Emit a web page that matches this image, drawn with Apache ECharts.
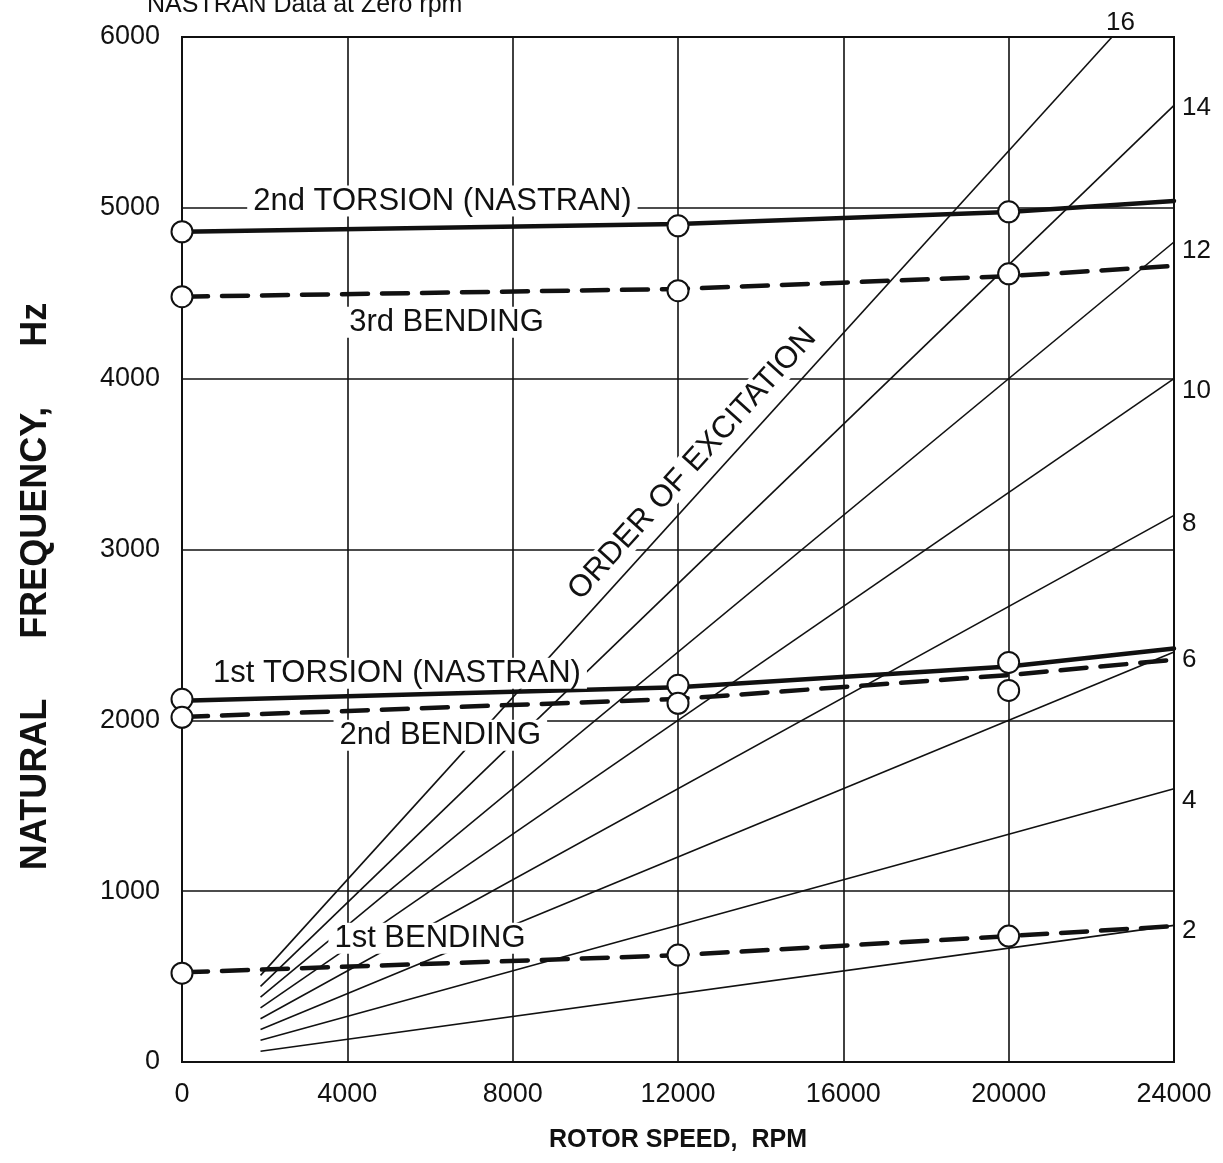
<!DOCTYPE html>
<html><head><meta charset="utf-8">
<script src="https://cdn.jsdelivr.net/npm/echarts@6/dist/echarts.min.js"></script>
<style>html,body{margin:0;padding:0;background:#fff}#c{width:1223px;height:1163px}</style>
</head><body><div id="c"></div>
<script>
// ---- data ----
const rpmTicks = [0, 4000, 8000, 12000, 16000, 20000, 24000];
const freqTicks = [0, 1000, 2000, 3000, 4000, 5000, 6000];

// excitation order lines (start and end points)
const orders = [2, 4, 6, 8, 10, 12, 14, 16];
const orderStartRpm = [1900, 1900, 1900, 1900, 1900, 1900, 1900, 1900];
const orderStartHz = [63, 127, 190, 253, 317, 380, 443, 507];
const orderEndRpm = [24000, 24000, 24000, 24000, 24000, 24000, 24000, 22500];
const orderEndHz = [800, 1600, 2400, 3200, 4000, 4800, 5600, 6000];

// NASTRAN mode curves
const modeRpm = [0, 12000, 20000, 24000];
const torsion2Hz = [4860, 4905, 4975, 5040];
const bending3Hz = [4480, 4525, 4600, 4660];
const torsion1Hz = [2115, 2193, 2315, 2420];
const bending2Hz = [2020, 2125, 2265, 2355];
const bending1Hz = [525, 625, 737, 795];

// circle markers
const pointRpm = [0, 12000, 20000];
const torsion2Pts = [4860, 4895, 4977];
const bending3Pts = [4480, 4515, 4614];
const torsion1Pts = [2123, 2205, 2339];
const bending2Pts = [2018, 2100, 2175];
const bending1Pts = [520, 626, 737];

// text annotations [rpm, Hz]
const annoText = ['2nd TORSION (NASTRAN)', '3rd BENDING', '1st TORSION (NASTRAN)', '2nd BENDING', '1st BENDING', 'ORDER OF EXCITATION'];
const annoRpm = [6300, 6400, 5200, 6250, 6000, 12350];
const annoHz = [5040, 4330, 2275, 1912, 725, 3500];

const titleText = 'NASTRAN Data at Zero rpm';

// ---- chart ----
const FONT = '"Liberation Sans", Arial, sans-serif';
const INK = '#111';
const chart = echarts.init(document.getElementById('c'), null, {renderer: 'canvas'});

const zip = (xs, ys) => xs.map((x, i) => [x, ys[i]]);
const labelOffsets = [5, 12, 8, 8, 12, 9, 2, 0];

const series = [];
orders.forEach((n, i) => {
  series.push({
    type: 'line', name: 'order ' + n, silent: true, symbol: 'none', z: 2,
    lineStyle: {color: INK, width: 1.6},
    data: [[orderStartRpm[i], orderStartHz[i]], [orderEndRpm[i], orderEndHz[i]]],
    endLabel: {
      show: true, formatter: String(n), color: INK, fontFamily: FONT, fontSize: 26,
      distance: n === 16 ? -6 : 8,
      offset: n === 16 ? [0, -14] : [0, labelOffsets[i]]
    }
  });
});

const modeDefs = [
  [torsion2Hz, 'solid'], [bending3Hz, 'dashed'], [torsion1Hz, 'solid'],
  [bending2Hz, 'dashed'], [bending1Hz, 'dashed']
];
modeDefs.forEach(([ys, t]) => {
  series.push({
    type: 'line', silent: true, symbol: 'none', z: 3,
    lineStyle: {color: INK, width: 4.5, type: t === 'solid' ? 'solid' : [26, 14], cap: 'round'},
    data: zip(modeRpm, ys)
  });
});

[torsion2Pts, bending3Pts, torsion1Pts, bending2Pts, bending1Pts].forEach(ys => {
  series.push({
    type: 'scatter', silent: true, z: 5, symbol: 'circle', symbolSize: 21,
    itemStyle: {color: '#fff', borderColor: INK, borderWidth: 2, opacity: 1},
    data: zip(pointRpm, ys)
  });
});

series.push({
  type: 'scatter', silent: true, z: 8, symbolSize: 0,
  itemStyle: {opacity: 1, color: '#fff'},
  data: annoText.map((t, i) => ({
    value: [annoRpm[i], annoHz[i]], name: t,
    label: i === 5 ? {rotate: 48} : {}
  })),
  label: {
    show: true, position: 'inside', formatter: p => p.name,
    color: INK, fontFamily: FONT, fontSize: 31, opacity: 1,
    textBorderWidth: 0, backgroundColor: '#fff', padding: [0, 6]
  }
});

chart.setOption({
  animation: false,
  backgroundColor: '#fff',
  grid: {left: 182, right: 49, top: 37, bottom: 101, show: true, borderColor: INK, borderWidth: 2},
  graphic: [{
    type: 'text', left: 147, top: -7,
    style: {text: titleText, font: '25px ' + FONT, fill: INK}
  }],
  xAxis: {
    type: 'value', min: rpmTicks[0], max: rpmTicks[rpmTicks.length - 1], interval: 4000,
    name: 'ROTOR SPEED,  RPM', nameLocation: 'middle', nameGap: 66,
    nameTextStyle: {color: INK, fontFamily: FONT, fontSize: 25, fontWeight: 'bold'},
    axisLine: {lineStyle: {color: INK, width: 2}},
    axisTick: {show: false},
    axisLabel: {color: INK, fontFamily: FONT, fontSize: 27, margin: 19, formatter: v => String(v)},
    splitLine: {lineStyle: {color: INK, width: 1.6}}
  },
  yAxis: {
    type: 'value', min: freqTicks[0], max: freqTicks[freqTicks.length - 1], interval: 1000,
    name: 'NATURAL      FREQUENCY,      Hz', nameLocation: 'middle', nameGap: 128,
    nameTextStyle: {color: INK, fontFamily: FONT, fontSize: 36, fontWeight: 'bold', padding: [0, 74, 0, 0]},
    axisLine: {show: true, lineStyle: {color: INK, width: 2}},
    axisTick: {show: false},
    axisLabel: {color: INK, fontFamily: FONT, fontSize: 27, margin: 22, formatter: v => String(v)},
    splitLine: {lineStyle: {color: INK, width: 1.6}}
  },
  series: series
});
</script>
</body></html>
